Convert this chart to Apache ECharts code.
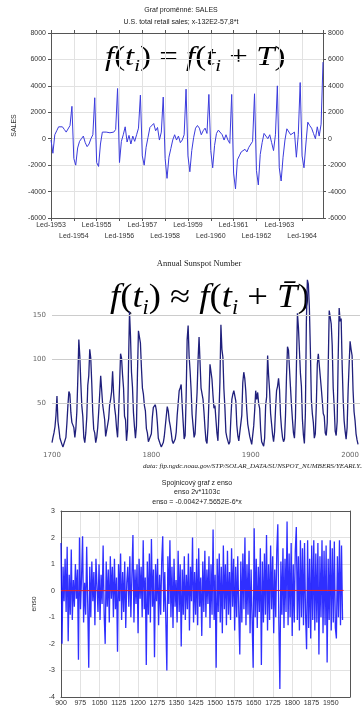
<!DOCTYPE html>
<html>
<head>
<meta charset="utf-8">
<title>Periodické řady</title>
<script src="https://cdn.jsdelivr.net/npm/echarts@6/dist/echarts.min.js"></script>
<style>
html, body { margin: 0; padding: 0; background: #fff; }
#main { width: 362px; height: 707px; }
</style>
</head>
<body>
<div id="main"></div>
<script>
// SALES - mesicni hodnoty 1953-1964 (ocisteno o trend)
var salesStartYear = 1953
var salesValues = [
  -100, -1100, 300, 600, 900, 1000, 900, 700, 500, 400, 1000, 2450,
  -1500, -2000, -700, -200, 0, 200, -300, -600, -400, 0, 300, 3100,
  -1800, -2100, -400, 500, 650, 500, 600, 450, 600, 500, 700, 3800,
  -1800, -200, 300, 900, -250, 250, -400, 200, -200, 300, 800, 3300,
  -1300, -2000, -650, 100, 850, 750, 1150, 600, 850, -100, 500, 3150,
  -1500, -3000, -1400, -750, -100, 300, -100, 200, -300, -100, 300, 3750,
  -1300, -2500, -900, 100, 800, 1000, 800, 300, 600, 800, 400, 3350,
  -900, -2200, -500, 400, 650, 500, 300, -100, 300, -100, -350, 3350,
  -2600, -3800, -1600, -1300, -1000, -1100, -800, -1000, -650, -600, -200, 3400,
  -2400, -3500, -1200, -300, 400, 300, 0, 300, -300, -900, 300, 4000,
  -2200, -3200, -1400, -100, 750, 600, 300, 400, 500, -1400, 300, 4250,
  -1300, -2200, -400, 1250, 1000, 800, 400, 0, 900, 200, 1100, 5800
]
var salesTicks = [-6000, 8000, 2000] // min, max, krok

// Annual Sunspot Number 1700-2008
var sunspotStartYear = 1700
var sunspotValues = [
  5, 11, 16, 23, 36, 58, 29, 20, 10, 8, 3, 0, 0, 2, 11, 27, 47, 63, 60, 39,
  28, 26, 22, 11, 21, 40, 78, 122, 103, 73, 47, 35, 11, 5, 16, 34, 70, 81, 111, 101,
  73, 40, 20, 16, 5, 11, 22, 40, 60, 81, 83, 48, 48, 31, 12, 10, 10, 32, 48, 54,
  63, 86, 61, 45, 36, 21, 11, 38, 70, 106, 101, 82, 67, 35, 31, 7, 20, 93, 154, 126,
  85, 68, 39, 23, 10, 24, 83, 132, 131, 118, 90, 67, 60, 47, 41, 21, 16, 6, 4, 7,
  15, 34, 45, 43, 48, 42, 28, 10, 8, 3, 0, 1, 5, 12, 14, 35, 46, 41, 30, 24,
  16, 7, 4, 2, 9, 17, 36, 50, 64, 67, 71, 48, 28, 9, 13, 57, 122, 138, 103, 86,
  65, 37, 24, 11, 15, 40, 62, 99, 125, 96, 67, 65, 54, 39, 21, 7, 4, 23, 55, 94,
  96, 77, 59, 44, 47, 31, 16, 7, 38, 74, 139, 111, 102, 66, 45, 17, 11, 12, 3, 6,
  32, 54, 60, 64, 64, 52, 25, 13, 7, 6, 7, 36, 73, 85, 78, 64, 42, 26, 27, 12,
  10, 3, 5, 24, 42, 64, 54, 62, 49, 44, 19, 6, 4, 1, 10, 47, 57, 104, 81, 64,
  38, 26, 14, 6, 17, 44, 64, 69, 78, 65, 36, 21, 11, 6, 9, 36, 80, 114, 110, 89,
  68, 48, 31, 16, 10, 33, 93, 152, 136, 135, 84, 69, 32, 14, 4, 38, 142, 190, 185, 159,
  112, 54, 38, 28, 10, 15, 47, 94, 106, 106, 105, 67, 69, 38, 35, 16, 13, 28, 93, 155,
  155, 140, 116, 67, 46, 18, 13, 29, 100, 158, 143, 146, 94, 55, 30, 18, 9, 22, 64, 93,
  120, 111, 104, 64, 40, 30, 15, 8, 3
]
var sunspotGrid = [50, 100, 150]
var sunspotYearTicks = [1700, 2010, 100] // min, max, krok

// enso - 1103 pripadu, odecteno po 4 pripadech od 900
var ensoStart = 900
var ensoStep = 4
var ensoValues = [
  1.8, -2.0, 0.9, -0.4, 1.2, -0.8, 1.65, -1.9, 0.6, -0.9,
  1.55, -1.1, 0.4, -0.6, 1.0, -0.3, 0.8, -2.6, 2.0, -0.7,
  0.5, 2.05, -1.2, 0.3, -0.9, 1.65, -0.5, -2.9, 0.9, -1.0,
  1.1, -0.4, 0.7, -1.3, 1.2, 0.2, -0.8, 1.0, -1.1, 0.6,
  -0.5, 1.7, -0.9, -2.0, 1.1, -0.6, 0.8, -1.2, 1.3, -0.3,
  0.9, -1.0, 1.2, -0.7, 0.5, -2.3, 1.0, -0.4, 1.4, -1.1,
  0.7, -0.8, 1.1, -1.4, 0.3, 0.9, -0.6, 1.3, -1.0, 0.6,
  2.1, -1.2, 0.8, -0.5, 1.0, -1.6, 1.2, -0.3, 0.9, -1.0,
  1.9, -0.7, 0.5, -2.8, 1.1, -0.9, 1.4, -1.2, 1.95, -0.6,
  0.8, -2.5, 1.0, -0.4, 1.2, -1.3, 0.6, -0.9, 1.1, 2.05,
  -0.8, 0.7, -1.1, -3.0, 1.3, -0.5, 1.9, -1.0, 0.9, -1.4,
  1.2, -0.6, 0.4, -1.2, 1.5, -0.8, 1.0, -2.1, 0.8, -0.9,
  1.3, -1.1, 0.6, -0.7, 1.4, -1.5, 0.9, -0.4, 2.0, -1.2,
  0.7, -0.9, 1.2, -1.3, 1.6, -0.6, 0.5, -1.7, 1.1, -0.8,
  1.5, -1.0, 0.8, -0.5, 1.3, -1.4, 1.0, -0.9, 2.3, -1.1,
  0.6, -2.9, 1.2, -0.8, 1.4, -1.2, 0.9, -1.6, 1.7, -0.7,
  1.0, -1.3, 1.5, -0.9, 0.7, -1.1, 1.6, -0.6, 1.2, -1.5,
  0.9, -1.0, 1.3, -0.8, -2.4, 1.1, -1.2, 1.4, -0.7, 2.0,
  -1.3, 1.0, -0.9, 1.5, -1.6, 0.8, -1.1, -2.9, 2.35, -1.0,
  1.2, -1.4, 0.9, -0.8, 1.6, -2.8, 1.1, -1.2, 1.4, -0.9,
  2.1, -1.5, 1.0, -1.1, 1.7, -0.7, 1.3, -1.6, 0.8, -1.0,
  1.5, 2.5, -1.2, -3.7, 1.1, -0.9, 1.6, -1.4, 1.2, -0.8,
  2.6, -1.3, 1.4, -1.0, 1.8, -1.7, 1.0, -1.2, 1.5, 2.4,
  -1.1, 1.3, -1.5, 1.9, -1.0, 1.6, -1.3, 1.8, -0.9, -2.2,
  1.9, -1.4, 1.2, -1.8, 1.7, -1.1, 1.9, -1.5, 1.4, -1.2,
  1.8, -2.4, 1.3, -1.0, 1.9, -1.6, 1.5, -1.3, 1.7, -2.7,
  1.2, -1.1, 1.9, -1.5, 1.6, -1.2, 1.85, -1.4, -1.8, 1.3,
  -1.0, 1.9, -1.3, 1.7, -1.1
]
var ensoFitX = [900, 2000]
var ensoFitY = [0.0026, 0.0109]
var ensoTicks = [-4, 3, 1]
var ensoCaseTicks = [900, 2025, 75]

var sansFont = 'Liberation Sans'
var serifFont = 'Liberation Serif'

var salesData = salesValues.map(function (v, i) { return [i, v] })
var sunspotData = sunspotValues.map(function (v, i) { return [sunspotStartYear + i, v] })
var ensoData = ensoValues.map(function (v, i) { return [ensoStart + i * ensoStep, v] })
var ensoFit = ensoFitX.map(function (x, i) { return [x, ensoFitY[i]] })

function plain(v) { return String(v) }

// popisky roku: liche roky v prvni rade, sude ve druhe
function yearLabel(odd) {
  return function (v) {
    var y = salesStartYear + v / 12
    return (y % 2 === 1) === odd ? 'Led-' + y : ''
  }
}

/** spolecny vzhled os Statistica grafu */
function boxAxis(extra) {
  var base = {
    axisLine: { show: true, onZero: false, lineStyle: { color: '#555', width: 1 } },
    axisTick: { show: true, inside: false, length: 3, lineStyle: { color: '#555' } },
    axisLabel: { fontSize: 7, color: '#333', fontFamily: sansFont, formatter: plain },
    splitLine: { show: false }
  }
  return Object.assign(base, extra)
}

function formula(text, x, y, size, stretch) {
  var sub = Math.round(size * 0.62)
  return {
    type: 'text',
    x: x,
    y: y,
    scaleX: stretch,
    style: {
      text: text,
      fill: '#000',
      rich: {
        it: { fontFamily: serifFont, fontStyle: 'italic', fontSize: size, lineHeight: size + 8, verticalAlign: 'middle' },
        rm: { fontFamily: serifFont, fontSize: size, lineHeight: size + 8, verticalAlign: 'middle' },
        sub: { fontFamily: serifFont, fontStyle: 'italic', fontSize: sub, lineHeight: sub + 2, verticalAlign: 'bottom' }
      }
    }
  }
}

function caption(text, x, y, font, align) {
  return {
    type: 'text',
    x: x,
    y: y,
    style: { text: text, fill: '#222', font: font, align: align || 'center', verticalAlign: 'middle' }
  }
}

var chart = echarts.init(document.getElementById('main'))

var salesMax = salesValues.length - 1

var option = {
  backgroundColor: '#fff',
  animation: false,
  grid: [
    { left: 51, top: 33, width: 272, height: 185 },
    { left: 52, top: 271, width: 316, height: 176 },
    { left: 61, top: 511, width: 289, height: 189 }
  ],
  xAxis: [
    boxAxis({
      gridIndex: 0, type: 'value', min: 0, max: salesMax, interval: 12, position: 'bottom',
      splitLine: { show: true, lineStyle: { color: '#e2e2e2' } },
      axisLabel: {
        fontSize: 7, color: '#333', fontFamily: sansFont, margin: 4,
        showMinLabel: true, showMaxLabel: false, formatter: yearLabel(true)
      }
    }),
    boxAxis({
      gridIndex: 0, type: 'value', min: 0, max: salesMax, interval: 12, position: 'top',
      axisLabel: { show: false }
    }),
    {
      gridIndex: 0, type: 'value', min: 0, max: salesMax, interval: 12, position: 'bottom', offset: 11,
      axisLine: { show: false, onZero: false }, axisTick: { show: false }, splitLine: { show: false },
      axisLabel: {
        fontSize: 7, color: '#333', fontFamily: sansFont, margin: 4,
        showMaxLabel: false, formatter: yearLabel(false)
      }
    },
    {
      gridIndex: 1, type: 'value', min: sunspotYearTicks[0], max: sunspotYearTicks[1], interval: sunspotYearTicks[2],
      axisLine: { show: false, onZero: false }, axisTick: { show: false }, splitLine: { show: false },
      axisLabel: { fontSize: 7, color: '#666', fontFamily: 'DejaVu Sans', margin: 5, showMaxLabel: false, formatter: plain }
    },
    boxAxis({
      gridIndex: 2, type: 'value', min: ensoCaseTicks[0], max: ensoCaseTicks[1], interval: ensoCaseTicks[2], position: 'bottom',
      axisTick: { show: false },
      splitLine: { show: true, lineStyle: { color: '#e2e2e2' } },
      axisLabel: { fontSize: 7, color: '#333', fontFamily: sansFont, margin: 3, showMaxLabel: false, formatter: plain }
    }),
    boxAxis({
      gridIndex: 2, type: 'value', min: ensoCaseTicks[0], max: ensoCaseTicks[1], position: 'top',
      axisTick: { show: false }, axisLabel: { show: false }
    })
  ],
  yAxis: [
    boxAxis({
      gridIndex: 0, type: 'value', min: salesTicks[0], max: salesTicks[1], interval: salesTicks[2], position: 'left',
      name: 'SALES', nameLocation: 'middle', nameGap: 33, nameRotate: 90,
      nameTextStyle: { fontSize: 7, color: '#333', fontFamily: sansFont },
      splitLine: { show: true, lineStyle: { color: '#e2e2e2' } },
      axisLabel: { fontSize: 7, color: '#333', fontFamily: sansFont, margin: 5, formatter: plain }
    }),
    boxAxis({
      gridIndex: 0, type: 'value', min: salesTicks[0], max: salesTicks[1], interval: salesTicks[2], position: 'right',
      axisLabel: { fontSize: 7, color: '#333', fontFamily: sansFont, margin: 5, formatter: plain }
    }),
    {
      gridIndex: 1, type: 'value', min: 0, max: 200, interval: 50,
      axisLine: { show: false }, axisTick: { show: false }, splitLine: { show: false },
      axisLabel: {
        fontSize: 7, color: '#666', fontFamily: 'DejaVu Sans', margin: 6,
        formatter: function (v) { return sunspotGrid.indexOf(v) >= 0 ? String(v) : '' }
      }
    },
    boxAxis({
      gridIndex: 2, type: 'value', min: ensoTicks[0], max: ensoTicks[1], interval: ensoTicks[2], position: 'left',
      name: 'enso', nameLocation: 'middle', nameGap: 18, nameRotate: 90,
      nameTextStyle: { fontSize: 7, color: '#333', fontFamily: sansFont },
      axisTick: { show: false },
      splitLine: { show: true, lineStyle: { color: '#e2e2e2' } },
      axisLabel: { fontSize: 7, color: '#333', fontFamily: sansFont, margin: 6, formatter: plain }
    }),
    boxAxis({
      gridIndex: 2, type: 'value', min: ensoTicks[0], max: ensoTicks[1], position: 'right',
      axisTick: { show: false }, axisLabel: { show: false }
    })
  ],
  series: [
    {
      name: 'SALES',
      type: 'line',
      xAxisIndex: 0,
      yAxisIndex: 0,
      showSymbol: false,
      data: salesData,
      lineStyle: { color: '#3b3bdd', width: 1 }
    },
    {
      name: 'Sunspots',
      type: 'line',
      xAxisIndex: 3,
      yAxisIndex: 2,
      showSymbol: false,
      data: sunspotData,
      lineStyle: { color: '#20207c', width: 1.3 },
      markLine: {
        silent: true,
        symbol: 'none',
        label: { show: false },
        lineStyle: { color: '#cccccc', type: 'solid', width: 1 },
        data: sunspotGrid.map(function (v) { return { yAxis: v } })
      }
    },
    {
      name: 'enso',
      type: 'line',
      xAxisIndex: 4,
      yAxisIndex: 3,
      showSymbol: false,
      data: ensoData,
      lineStyle: { color: '#0a0aff', width: 1.3, opacity: 0.85 }
    },
    {
      name: 'fit',
      type: 'line',
      xAxisIndex: 4,
      yAxisIndex: 3,
      showSymbol: false,
      data: ensoFit,
      lineStyle: { color: '#ee2222', width: 1 }
    }
  ],
  graphic: [
    caption('Graf proměnné: SALES', 181, 10, '7px ' + sansFont),
    caption('U.S. total retail sales; x-132E2-57,8*t', 181, 22, '7px ' + sansFont),
    formula('{it|f}{rm|(}{it|t}{sub|i}{rm|) = }{it|f}{rm|(}{it|t}{sub|i}{rm| + }{it|T}{rm|)}', 105, 40, 27, 1.22),
    caption('Annual Sunspot Number', 199, 264, '8.5px ' + serifFont),
    formula('{it|f}{rm|(}{it|t}{sub|i}{rm|) ≈ }{it|f}{rm|(}{it|t}{sub|i}{rm| + }{it|T\u0304}{rm|)}', 110, 278, 33, 1.11),
    caption('data: ftp.ngdc.noaa.gov/STP/SOLAR_DATA/SUNSPOT_NUMBERS/YEARLY.PLT', 143, 466, 'italic 7px ' + serifFont, 'left'),
    caption('Spojnicový graf z enso', 197, 483, '7px ' + sansFont),
    caption('enso 2v*1103c', 197, 492, '7px ' + sansFont),
    caption('enso = -0.0042+7.5652E-6*x', 197, 502, '7px ' + sansFont)
  ]
}

chart.setOption(option)
</script>
</body>
</html>
